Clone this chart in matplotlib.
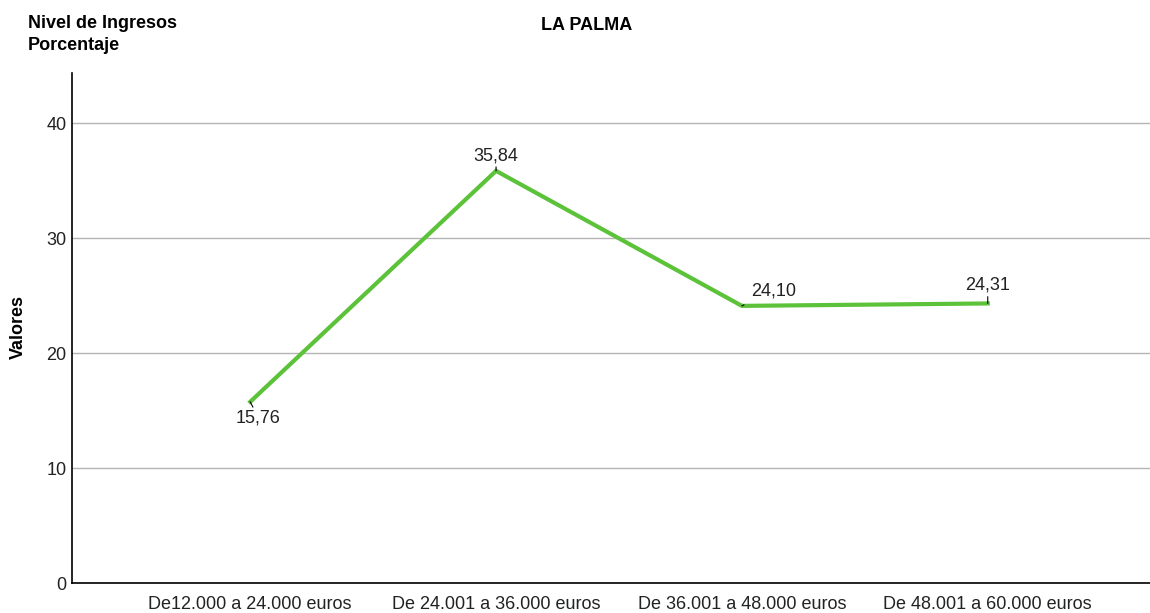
import matplotlib.pyplot as plt

categories = ["De12.000 a 24.000 euros", "De 24.001 a 36.000 euros",
              "De 36.001 a 48.000 euros", "De 48.001 a 60.000 euros"]
values = [15.76, 35.84, 24.10, 24.31]
labels = ["15,76", "35,84", "24,10", "24,31"]
yticks = [0, 10, 20, 30, 40]

# label offsets in points (dx, dy) relative to each point
offsets = [(6, -12), (0, 11), (23, 11), (0, 13)]

plt.rcParams['font.family'] = ['Liberation Sans', 'DejaVu Sans']

fig = plt.figure(figsize=(11.5, 6.13), dpi=100)
ax = fig.add_axes([0.0626, 0.0489, 0.9374, 0.832])

x = list(range(len(categories)))
ax.plot(x, values, color='#5cc23a', lw=3, solid_joinstyle='miter', zorder=3)

for xi, v, lab, (dx, dy) in zip(x, values, labels, offsets):
    ax.annotate(lab, (xi, v), xytext=(dx, dy), textcoords='offset points',
                ha='center', va='center', fontsize=13, color='#222222',
                arrowprops=dict(arrowstyle='-', color='black', lw=0.8,
                                shrinkA=5, shrinkB=0))

ax.set_xlim(-0.725, 3.66)
ax.set_ylim(0, 44.35)
ax.set_yticks(yticks)
ax.set_xticks(x)
ax.set_xticklabels(categories, fontsize=13)
ax.tick_params(axis='both', length=0, labelsize=13, colors='#222222')
ax.tick_params(axis='y', pad=4)
ax.tick_params(axis='x', pad=9)
ax.grid(axis='y', color='#b4b4b4', lw=1)
ax.set_axisbelow(True)
for s in ['top', 'right']:
    ax.spines[s].set_visible(False)
for s in ['left', 'bottom']:
    ax.spines[s].set_color('black')
    ax.spines[s].set_linewidth(1.2)

fig.text(0.0157, 0.467, "Valores", rotation=90, ha='center', va='center',
         fontsize=13, fontweight='bold')
fig.text(0.024, 0.975, "Nivel de Ingresos\nPorcentaje", ha='left', va='top',
         fontsize=13, fontweight='bold', linespacing=1.35)
fig.text(0.51, 0.958, "LA PALMA", ha='center', va='center',
         fontsize=13, fontweight='bold')

fig.savefig("out.png", dpi=100)
